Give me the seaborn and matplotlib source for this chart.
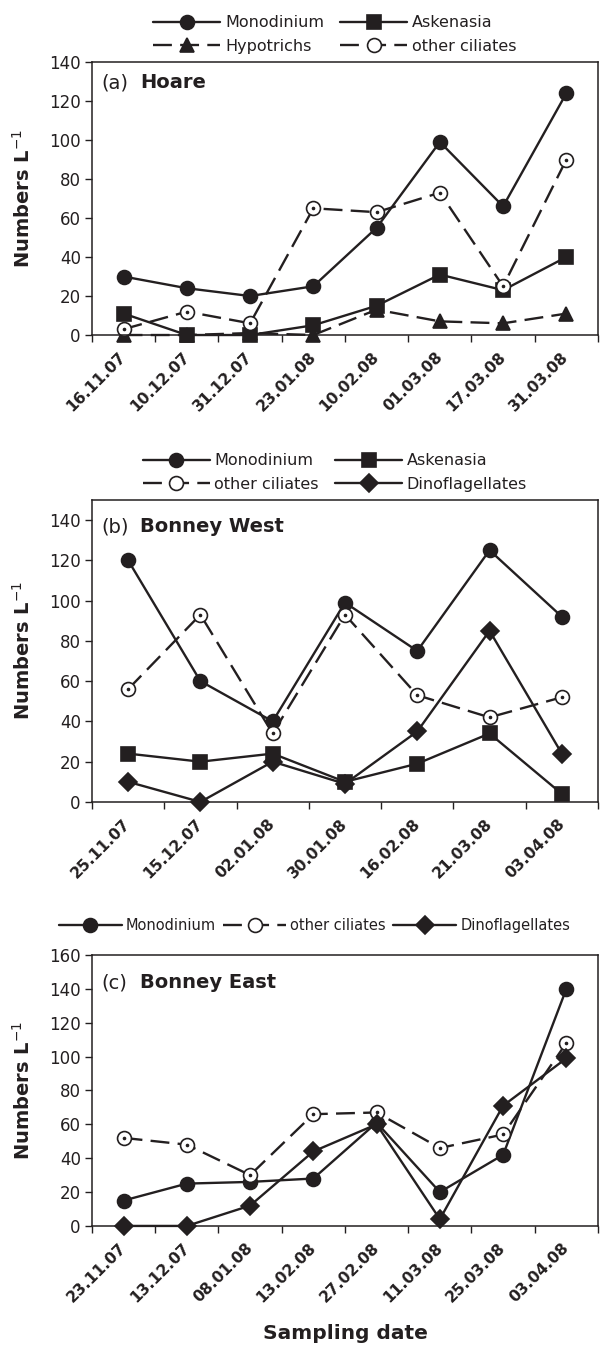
import numpy as np
import pandas as pd
import matplotlib
matplotlib.use('Agg')
import matplotlib.pyplot as plt
import matplotlib.transforms as mtransforms
import seaborn as sns

# (a) Hoare
hoare_dates = ['16.11.07', '10.12.07', '31.12.07', '23.01.08',
               '10.02.08', '01.03.08', '17.03.08', '31.03.08']
hoare_monodinium = [30, 24, 20, 25, 55, 99, 66, 124]
hoare_askenasia = [11, 0, 0, 5, 15, 31, 23, 40]
hoare_hypotrichs = [0, 0, 1, 0, 13, 7, 6, 11]
hoare_other = [3, 12, 6, 65, 63, 73, 25, 90]

# (b) Bonney West
west_dates = ['25.11.07', '15.12.07', '02.01.08', '30.01.08',
              '16.02.08', '21.03.08', '03.04.08']
west_monodinium = [120, 60, 40, 99, 75, 125, 92]
west_askenasia = [24, 20, 24, 10, 19, 34, 4]
west_other = [56, 93, 34, 93, 53, 42, 52]
west_dino = [10, 0, 20, 9, 35, 85, 24]

# (c) Bonney East
east_dates = ['23.11.07', '13.12.07', '08.01.08', '13.02.08',
              '27.02.08', '11.03.08', '25.03.08', '03.04.08']
east_monodinium = [15, 25, 26, 28, 61, 20, 42, 140]
east_other = [52, 48, 30, 66, 67, 46, 54, 108]
east_dino = [0, 0, 12, 44, 60, 4, 71, 99]

INK = '#231f20'
DASH = (0, (8, 3.5))

sns.set_theme(style='ticks')
plt.rcParams['font.family'] = ['DejaVu Sans']
plt.rcParams['text.color'] = INK
plt.rcParams['axes.edgecolor'] = INK
plt.rcParams['xtick.color'] = INK
plt.rcParams['ytick.color'] = INK

styles = {
    'Monodinium': dict(marker='o', ms=10, mfc=INK, ls='-'),
    'Askenasia': dict(marker='s', ms=9.5, mfc=INK, ls='-'),
    'Hypotrichs': dict(marker='^', ms=10, mfc=INK, ls=DASH),
    'other ciliates': dict(marker='o', ms=10, mfc='white', ls=DASH),
    'Dinoflagellates': dict(marker='D', ms=9, mfc=INK, ls='-'),
}


def draw_panel(ax, dates, series, legend_order, ymax, ytop, tag, name,
               tag_drop, leg):
    n = len(dates)
    df = pd.DataFrame([
        {'pos': i, 'value': v, 'series': s}
        for s, vals in series.items() for i, v in enumerate(vals)
    ])
    handles = {}
    for s in series:
        st = styles[s]
        sub = df[df['series'] == s]
        sns.lineplot(data=sub, x='pos', y='value', ax=ax, color=INK,
                     linewidth=1.7, linestyle=st['ls'], marker=st['marker'],
                     markersize=st['ms'], markerfacecolor=st['mfc'],
                     markeredgecolor=INK, markeredgewidth=1.2,
                     clip_on=False, legend=False)
        line = ax.get_lines()[-1]
        line.set_label(s)
        handles[s] = line
        if s == 'other ciliates':
            ax.plot(sub['pos'], sub['value'], ls='none', marker='o', ms=1.6,
                    color=INK, clip_on=False)

    ax.set_xlim(-0.5, n - 0.5)
    ax.set_ylim(0, ymax)
    ax.set_yticks(np.arange(0, ytop + 1, 20))
    ax.set_xticks(np.arange(n))
    ax.set_xticks(np.arange(-0.5, n), minor=True)
    ax.set_xticklabels(dates, rotation=45, ha='right', va='center',
                       rotation_mode='anchor', fontweight='bold', fontsize=11.2)
    shift = mtransforms.ScaledTranslation(-9 / 72, 0, ax.figure.dpi_scale_trans)
    for lab in ax.get_xticklabels():
        lab.set_transform(lab.get_transform() + shift)
    ax.tick_params(axis='x', which='major', length=0, pad=14)
    ax.tick_params(axis='x', which='minor', length=5, width=1, direction='out')
    ax.tick_params(axis='y', length=5, width=1, direction='out', labelsize=12, pad=3)
    for sp in ax.spines.values():
        sp.set_visible(True)
        sp.set_linewidth(1.1)
        sp.set_color(INK)
    ax.set_xlabel('')
    ax.set_ylabel('Numbers L$^{-1}$', fontweight='bold', fontsize=14,
                  labelpad=11)
    ax.yaxis.label.set_color(INK)

    # panel tag, placed a fixed distance below the top frame
    off = mtransforms.ScaledTranslation(0, -tag_drop / 72, ax.figure.dpi_scale_trans)
    ax.text(0.018, 1.0, tag, transform=ax.transAxes + off, fontsize=14,
            va='center', ha='left')
    ax.text(0.095, 1.0, name, transform=ax.transAxes + off, fontsize=14,
            va='center', ha='left', fontweight='bold')

    hs = [handles[s] for s in legend_order]
    ax.legend(hs, legend_order, loc='lower center', frameon=False,
              handletextpad=0.3, borderaxespad=0.3, borderpad=0.2, **leg)


fig = plt.figure(figsize=(6.01, 13.46), dpi=100)
left, width = 0.153, 0.842
ax_a = fig.add_axes([left, 0.7511, width, 0.2028])
ax_b = fig.add_axes([left, 0.4042, width, 0.2244])
ax_c = fig.add_axes([left, 0.0892, width, 0.2013])

two_rows = dict(ncol=2, bbox_to_anchor=(0.48, 1.0), fontsize=11.5,
                handlelength=4.2, columnspacing=1.0, labelspacing=0.55)

draw_panel(ax_a, hoare_dates,
           {'Monodinium': hoare_monodinium, 'Askenasia': hoare_askenasia,
            'Hypotrichs': hoare_hypotrichs, 'other ciliates': hoare_other},
           ['Monodinium', 'Hypotrichs', 'Askenasia', 'other ciliates'],
           140, 140, '(a)', 'Hoare', 15, two_rows)
draw_panel(ax_b, west_dates,
           {'Monodinium': west_monodinium, 'Askenasia': west_askenasia,
            'other ciliates': west_other, 'Dinoflagellates': west_dino},
           ['Monodinium', 'other ciliates', 'Askenasia', 'Dinoflagellates'],
           150, 140, '(b)', 'Bonney West', 19.5, two_rows)
draw_panel(ax_c, east_dates,
           {'Monodinium': east_monodinium, 'other ciliates': east_other,
            'Dinoflagellates': east_dino},
           ['Monodinium', 'other ciliates', 'Dinoflagellates'],
           160, 160, '(c)', 'Bonney East', 20,
           dict(ncol=3, bbox_to_anchor=(0.44, 1.055), fontsize=10.5,
                handlelength=4.3, columnspacing=0.5))

ax_c.set_xlabel('Sampling date', fontweight='bold', fontsize=14.5, labelpad=14)
ax_c.xaxis.label.set_color(INK)

fig.savefig('out.png', dpi=100)
